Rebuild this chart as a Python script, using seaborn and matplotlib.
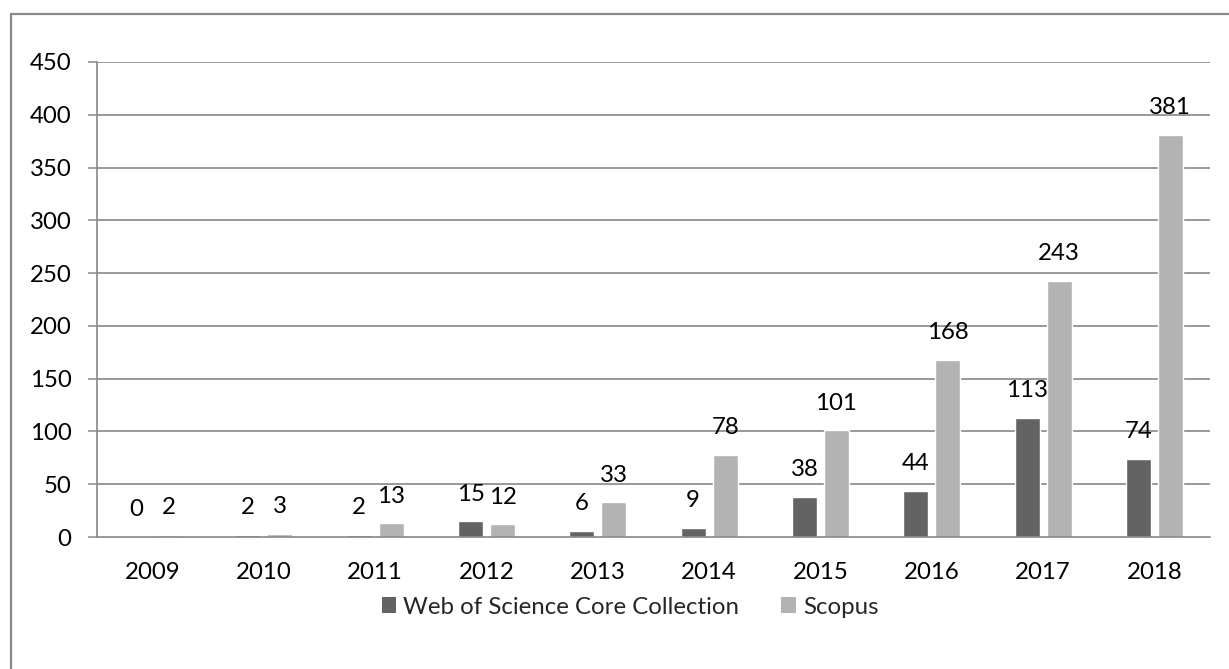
import matplotlib
matplotlib.use("Agg")
import matplotlib.pyplot as plt
import seaborn as sns
import pandas as pd
from matplotlib.lines import Line2D
from matplotlib.patches import Patch

years = ["2009", "2010", "2011", "2012", "2013", "2014", "2015", "2016", "2017", "2018"]
wos = [0, 2, 2, 15, 6, 9, 38, 44, 113, 74]
scopus = [2, 3, 13, 12, 33, 78, 101, 168, 243, 381]
series_names = ["Web of Science Core Collection", "Scopus"]
colors = ["#636363", "#b3b3b3"]
yticks = [0, 50, 100, 150, 200, 250, 300, 350, 400, 450]

df = pd.DataFrame({
    "year": years * 2,
    "value": wos + scopus,
    "series": [series_names[0]] * len(years) + [series_names[1]] * len(years),
})

sns.set_theme(style="white")
plt.rcParams['font.family'] = ['Lato', 'DejaVu Sans']
FS = 17.3

fig = plt.figure(figsize=(12.29, 6.69), dpi=100)
ax = fig.add_axes([97 / 1229, 1 - 537 / 669, (1210 - 97) / 1229, (537 - 62) / 669])

sns.barplot(data=df, x="year", y="value", hue="series", palette=colors,
            width=0.575, gap=0.22, ax=ax, legend=False, saturation=1)

for cont in ax.containers:
    for bar in cont:
        h = bar.get_height()
        ax.annotate(f"{int(round(h))}", (bar.get_x() + bar.get_width() / 2, h),
                    xytext=(0, 19.5), textcoords="offset points",
                    ha="center", va="center", fontsize=FS, color="#000000")

ax.set_ylim(0, 450)
ax.set_xlim(-0.5, len(years) - 0.5)
ax.set_yticks(yticks)
ax.set_yticklabels([str(t) for t in yticks], fontsize=FS, color="#000000")
ax.tick_params(axis="y", length=6.5, width=1.1, color="#888888", pad=12, direction="out", left=True)
ax.tick_params(axis="x", length=0, pad=18, labelsize=FS, labelcolor="#000000")
ax.set_xlabel("")
ax.set_ylabel("")

ax.grid(False)
for t in yticks[1:]:
    ax.axhline(t, color="#888888", lw=1.2, zorder=0)
for s in ["top", "right"]:
    ax.spines[s].set_visible(False)
for s in ["left", "bottom"]:
    ax.spines[s].set_color("#888888")
    ax.spines[s].set_linewidth(1.2)

# outer chart frame (top and left only visible)
fig.add_artist(Line2D([10.5 / 1229, 1.0], [1 - 13.5 / 669, 1 - 13.5 / 669],
                      transform=fig.transFigure, color="#888888", lw=1.6))
fig.add_artist(Line2D([10.5 / 1229, 10.5 / 1229], [1 - 13.5 / 669, 0.0],
                      transform=fig.transFigure, color="#888888", lw=1.6))

handles = [Patch(facecolor=c, edgecolor="none") for c in colors]
fig.legend(handles, series_names, loc="center", bbox_to_anchor=(630 / 1229, 1 - 607 / 669),
           ncol=2, frameon=False, fontsize=FS, handlelength=0.6, handleheight=0.6,
           handletextpad=0.3, columnspacing=1.75)

fig.savefig("out.png", dpi=100)
